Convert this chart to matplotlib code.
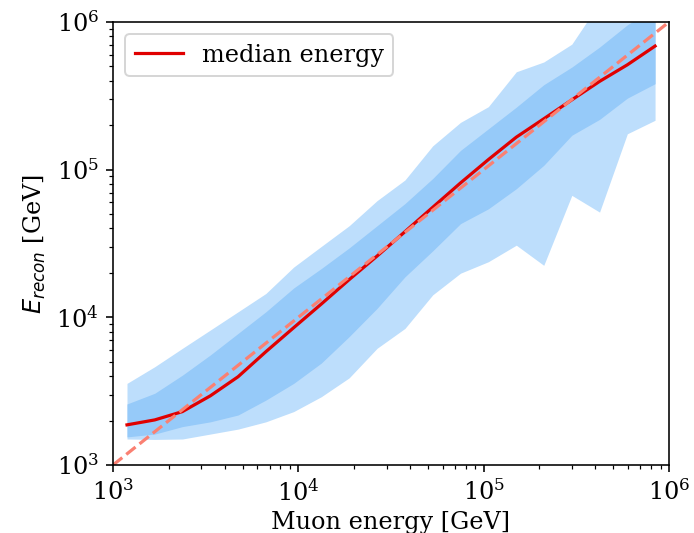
import numpy as np
import matplotlib
matplotlib.use("Agg")
import matplotlib.pyplot as plt

plt.rcParams["font.family"] = "serif"
plt.rcParams["font.size"] = 12

# Bin centres of true muon energy [GeV]
muon_energy = [1190, 1680, 2370, 3350, 4730, 6680, 9440, 13300, 18800, 26600,
               37600, 53100, 75000, 106000, 150000, 211000, 299000, 422000,
               596000, 841000]

# Reconstructed energy percentiles per bin [GeV]
median_energy = [1870, 2020, 2300, 2940, 3960, 5850, 8510, 12300, 18000, 26000,
                 38000, 55600, 81300, 117000, 166000, 221000, 297000, 396000,
                 513000, 687000]
inner_upper = [2590, 3060, 4060, 5560, 7780, 10900, 15800, 21400, 29500, 41700,
               58900, 87100, 135000, 189000, 265000, 376000, 495000, 676000,
               957000, 1260000]
inner_lower = [1550, 1620, 1820, 1960, 2180, 2750, 3570, 4900, 7400, 11500,
               18800, 28200, 43100, 54300, 74300, 107000, 171000, 219000,
               305000, 382000]
outer_upper = [3570, 4630, 6170, 8200, 10900, 14500, 21900, 30200, 41700, 61700,
               85100, 145000, 209000, 267000, 460000, 536000, 708000, 1350000,
               1500000, 1600000]
outer_lower = [1500, 1490, 1500, 1620, 1750, 1960, 2300, 2900, 3890, 6170,
               8410, 14200, 19900, 23800, 30800, 22500, 67000, 51600,
               175000, 216000]

fig = plt.figure(figsize=(694 / 144, 533 / 144), dpi=144)
ax = fig.add_axes([113 / 694, 1 - 465 / 533, (669 - 113) / 694, (465 - 22) / 533])

light_blue = (189 / 255, 222 / 255, 252 / 255)
mid_blue = (150 / 255, 202 / 255, 249 / 255)

ax.fill_between(muon_energy, outer_lower, outer_upper, color=light_blue, lw=0)
ax.fill_between(muon_energy, inner_lower, inner_upper, color=mid_blue, lw=0)
ax.plot(muon_energy, median_energy, color="#e00000", lw=1.6, label="median energy")
ax.plot([1e3, 1e6], [1e3, 1e6], ls="--", color="salmon", lw=1.6)

ax.set_xscale("log")
ax.set_yscale("log")
ax.set_xlim(1e3, 1e6)
ax.set_ylim(1e3, 1e6)
ax.set_xlabel("Muon energy [GeV]", labelpad=2.5)
ax.set_ylabel(r"$E_{recon}$ [GeV]")
ax.legend(loc="upper left")

fig.savefig("out.png", dpi=144)
